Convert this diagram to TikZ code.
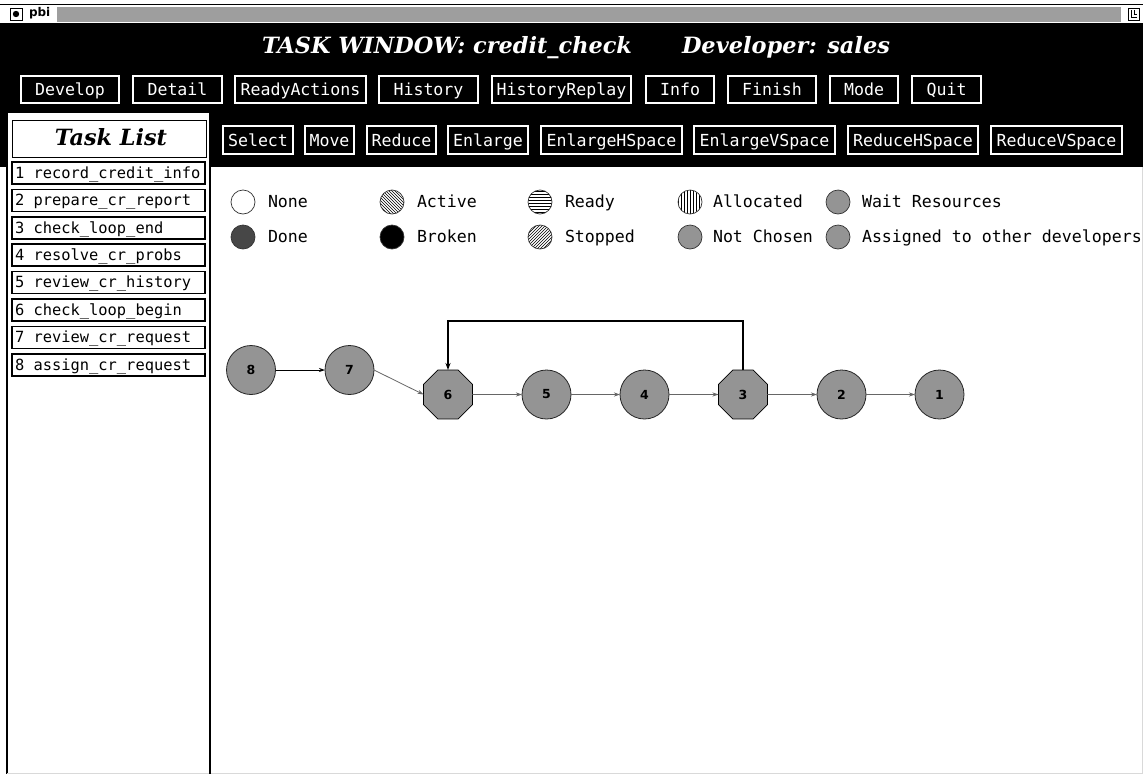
\documentclass[tikz,border=0pt]{standalone}
\usepackage{fontspec}
\usepackage{graphicx}
\usetikzlibrary{shapes.geometric,arrows.meta,patterns}

\newfontfamily\uimonofamily{DejaVu Sans Mono}
\newfontfamily\uisansfamily{DejaVu Sans}
\newfontfamily\headserif{DejaVu Serif}

\newcommand\btnfont{\uimonofamily\fontsize{16.6}{18}\selectfont}
\newcommand\itemfont{\uimonofamily\fontsize{15.4}{17}\selectfont}
\newcommand\nodefont{\uisansfamily\bfseries\fontsize{12.5}{13}\selectfont}
\newcommand\headfont{\headserif\bfseries\itshape}

\begin{document}
\begin{tikzpicture}[x=1pt,y=-1pt,
  every node/.style={inner sep=0pt,outer sep=0pt},
  topbtn/.style={draw=white,line width=1.6pt,text=white,minimum height=27pt,
    text height=14pt,text depth=2pt,font=\btnfont},
  toolbtn/.style={draw=white,line width=1.3pt,text=white,minimum height=28pt,
    text height=14pt,text depth=2pt,font=\btnfont},
  taskbox/.style={draw=black,line width=1.6pt,minimum width=193pt,minimum height=22pt},
  tasktext/.style={anchor=west,font=\itemfont,text height=12.5pt,text depth=2pt},
  legmark/.style={circle,minimum size=24pt,draw=black!80,line width=0.7pt},
  legtext/.style={anchor=base west,font=\btnfont},
  stepnode/.style={circle,minimum size=49pt,fill=black!42,draw=black!85,line width=0.8pt,font=\nodefont},
  loopnode/.style={regular polygon,regular polygon sides=8,minimum size=53pt,fill=black!42,draw=black,line width=0.8pt,font=\nodefont},
  flow/.style={draw=black!60,line width=0.8pt,-{Stealth[length=6pt,width=4pt]}},
  backflow/.style={draw=black,line width=1.8pt,-{Stealth[length=7pt,width=5pt]}}
]
\useasboundingbox (0,0) rectangle (1143,774);
\fill[white] (0,0) rectangle (1143,774);

% ---- window title bar ----
\draw[black,line width=1pt] (0,4.5) -- (1143,4.5);
\fill[black!38] (57,7) rectangle (1121,22);
\node[draw=black,line width=0.8pt,minimum size=12pt] (winicon) at (16,14) {};
\fill[black] (winicon.center) circle (3.2pt);
\node[font=\uisansfamily\bfseries\fontsize{12}{13}\selectfont,anchor=west] (wintitle) at (29,13.5) {pbi};
\node[draw=black,line width=0.8pt,minimum width=11pt,minimum height=12pt] (maxicon) at (1134,14) {};
\draw[black,line width=0.7pt] (1131,10) -- (1131,17) -- (1137,17) (1134,10) -- (1134,14) -- (1137,14);

% ---- black main frame ----
\fill[black] (0,23) rectangle (1143,167);

% ---- task list panel ----
\fill[white] (7,113) rectangle (209,774);
\draw[black,line width=2pt] (7,113) -- (7,774);
\draw[black,line width=2pt] (209.5,113) -- (209.5,774);

% ---- drawing canvas ----
\fill[white] (211,167) rectangle (1143,774);
\draw[black!15,line width=1pt] (211,773.5) -- (1143,773.5);
\draw[black!15,line width=1pt] (1142.5,167) -- (1142.5,774);
\draw[black!15,line width=1pt] (7,773.5) -- (209,773.5);

% ---- window heading ----
\node[anchor=base west,text=white] (heading) at (262,53)
  {\resizebox{370pt}{!}{\headfont TASK WINDOW: credit\_check}};
\node[anchor=base west,text=white] (developer) at (682,53)
  {\resizebox{208pt}{!}{\headfont Developer: sales}};

% ---- command buttons ----
\node[topbtn,minimum width=98pt]  (develop)   at (70,89.5)    {Develop};
\node[topbtn,minimum width=89pt]  (detail)    at (177.5,89.5) {Detail};
\node[topbtn,minimum width=131pt] (ready)     at (300.5,89.5) {ReadyActions};
\node[topbtn,minimum width=99pt]  (history)   at (428.5,89.5) {History};
\node[topbtn,minimum width=139pt] (replay)    at (561.5,89.5) {HistoryReplay};
\node[topbtn,minimum width=68pt]  (info)      at (680,89.5)   {Info};
\node[topbtn,minimum width=88pt]  (finish)    at (772,89.5)   {Finish};
\node[topbtn,minimum width=68pt]  (mode)      at (864,89.5)   {Mode};
\node[topbtn,minimum width=69pt]  (quit)      at (946.5,89.5) {Quit};

% ---- layout tool buttons ----
\node[toolbtn,minimum width=70pt]  (select)   at (258,140)    {Select};
\node[toolbtn,minimum width=49pt]  (move)     at (329.5,140)  {Move};
\node[toolbtn,minimum width=69pt]  (reduce)   at (401.5,140)  {Reduce};
\node[toolbtn,minimum width=80pt]  (enlarge)  at (488,140)    {Enlarge};
\node[toolbtn,minimum width=141pt] (enlh)     at (611.5,140)  {EnlargeHSpace};
\node[toolbtn,minimum width=141pt] (enlv)     at (764.5,140)  {EnlargeVSpace};
\node[toolbtn,minimum width=130pt] (redh)     at (913,140)    {ReduceHSpace};
\node[toolbtn,minimum width=131pt] (redv)     at (1056.5,140) {ReduceVSpace};

% ---- task list ----
\node[draw=black,line width=0.8pt,minimum width=194pt,minimum height=37pt] (tasklist) at (109,138.5) {};
\node[anchor=base] (tasklisttitle) at (111,145) {\resizebox{112pt}{!}{\headfont Task List}};
\foreach \i/\t [count=\k from 0] in {1/record\_credit\_info,2/prepare\_cr\_report,3/check\_loop\_end,
    4/resolve\_cr\_probs,5/review\_cr\_history,6/check\_loop\_begin,7/review\_cr\_request,8/assign\_cr\_request}{
  \node[taskbox] (task\i) at (108.5,173+27.4*\k) {};
  \node[tasktext] (tasklabel\i) at (15,173+27.4*\k) {\i\ \t};
}

% ---- state legend ----
\begin{scope}
\clip (211,167) rectangle (1141.5,774);
\node[legmark,fill=white]                 (lgnone)    at (243,202) {};
\node[legmark,pattern=north west lines]   (lgactive)  at (392,202) {};
\node[legmark,pattern=horizontal lines]   (lgready)   at (540,202) {};
\node[legmark,pattern=vertical lines]     (lgalloc)   at (690,202) {};
\node[legmark,fill=black!42]              (lgwait)    at (838,202) {};
\node[legmark,fill=black!72]              (lgdone)    at (243,237) {};
\node[legmark,fill=black]                 (lgbroken)  at (392,237) {};
\node[legmark,pattern=north east lines]   (lgstopped) at (540,237) {};
\node[legmark,fill=black!42]              (lgnot)     at (690,237) {};
\node[legmark,fill=black!42]              (lgother)   at (838,237) {};
\node[legtext] (tnone)    at (268,207.5) {None};
\node[legtext] (tactive)  at (417,207.5) {Active};
\node[legtext] (tready)   at (565,207.5) {Ready};
\node[legtext] (talloc)   at (713,207.5) {Allocated};
\node[legtext] (twait)    at (862,207.5) {Wait Resources};
\node[legtext] (tdone)    at (268,242)   {Done};
\node[legtext] (tbroken)  at (417,242)   {Broken};
\node[legtext] (tstopped) at (565,242)   {Stopped};
\node[legtext] (tnot)     at (713,242)   {Not Chosen};
\node[legtext] (tother)   at (862,242)   {Assigned to other developers};
\end{scope}

% ---- task flow graph ----
\node[stepnode] (n8) at (251,370)     {8};
\node[stepnode] (n7) at (349.5,370)   {7};
\node[loopnode] (n6) at (448,394.5)   {6};
\node[stepnode] (n5) at (546.5,394.5) {5};
\node[stepnode] (n4) at (644.5,394.5) {4};
\node[loopnode] (n3) at (743,394.5)   {3};
\node[stepnode] (n2) at (841.5,394.5) {2};
\node[stepnode] (n1) at (939.5,394.5) {1};

\draw[flow,draw=black] (n8) -- (n7);
\draw[flow] (n7.east) -- (n6.west);
\draw[flow] (n6) -- (n5);
\draw[flow] (n5) -- (n4);
\draw[flow] (n4) -- (n3);
\draw[flow] (n3) -- (n2);
\draw[flow] (n2) -- (n1);
\draw[backflow] (n3.north) -- ++(0,-49) -| (n6.north);
\end{tikzpicture}
\end{document}
